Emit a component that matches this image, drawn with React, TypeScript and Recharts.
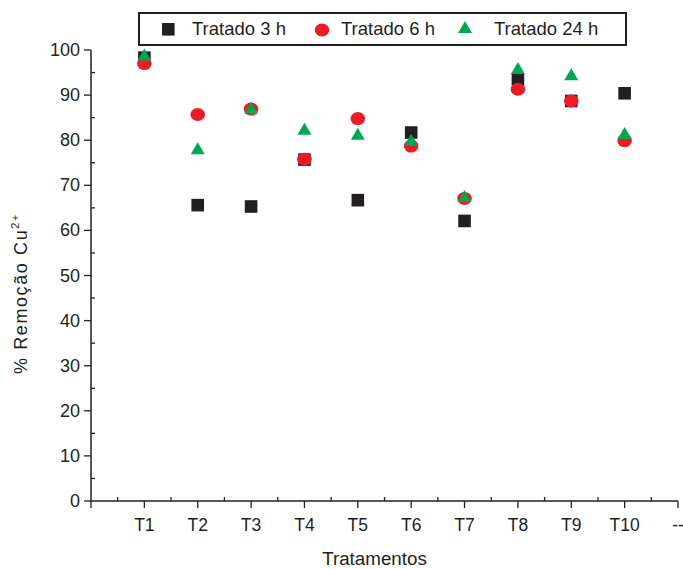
import { ScatterChart, Scatter, XAxis, YAxis, Legend } from "recharts"

const treatments = ["T1", "T2", "T3", "T4", "T5", "T6", "T7", "T8", "T9", "T10"]
const tratado3h = [98.3, 65.6, 65.3, 75.7, 66.7, 81.7, 62.1, 93.5, 88.7, 90.4]
const tratado6h = [97.0, 85.7, 86.9, 75.8, 84.8, 78.7, 67.1, 91.3, 88.7, 79.9]
const tratado24h = [98.8, 78.0, 87.0, 82.3, 81.2, 79.9, 67.4, 95.8, 94.4, 81.4]
const xTickLabels = ["", ...treatments, "--"]
const yTickLabels = [0, 10, 20, 30, 40, 50, 60, 70, 80, 90, 100]

const INK = "#231f20"
const RED = "#ed1c24"
const GREEN = "#00a651"

const toPoints = (values: number[]) => values.map((v, i) => ({ x: i + 1, y: v, name: treatments[i] }))

const xTicks = xTickLabels.flatMap((_, i) => (i < xTickLabels.length - 1 ? [i, i + 0.5] : [i]))
const yTicks = yTickLabels.flatMap((v, i) => (i < yTickLabels.length - 1 ? [v, v + 5] : [v]))

const Square = ({ cx, cy }: any) => <rect x={cx - 6.3} y={cy - 6.3} width={12.6} height={12.6} fill={INK} />
const Dot = ({ cx, cy }: any) => <ellipse cx={cx} cy={cy} rx={7.3} ry={6.5} fill={RED} />
const Tri = ({ cx, cy }: any) => (
  <polygon points={`${cx},${cy - 7} ${cx - 7},${cy + 5} ${cx + 7},${cy + 5}`} fill={GREEN} />
)

const XTick = ({ x, y, payload }: any) => {
  const v = payload.value
  if (!Number.isInteger(v)) return <line x1={x} x2={x} y1={y} y2={y - 4} stroke={INK} strokeWidth={1.3} />
  return (
    <g>
      <line x1={x} x2={x} y1={y} y2={y + 7} stroke={INK} strokeWidth={1.3} />
      <text x={x} y={y + 30} textAnchor="middle" fontSize={17.5} fill={INK}>
        {xTickLabels[v]}
      </text>
    </g>
  )
}

const YTick = ({ x, y, payload }: any) => {
  const v = payload.value
  if (v % 10 !== 0) return <line x1={x} x2={x + 4} y1={y} y2={y} stroke={INK} strokeWidth={1.3} />
  return (
    <g>
      <line x1={x - 7} x2={x} y1={y} y2={y} stroke={INK} strokeWidth={1.3} />
      <text x={x - 11} y={y + 6} textAnchor="end" fontSize={18} fill={INK}>
        {v}
      </text>
    </g>
  )
}

const LegendBox = () => (
  <svg width={489} height={34}>
    <rect x={1} y={1} width={487} height={32} fill="#fff" stroke={INK} strokeWidth={2} />
    <rect x={24} y={11} width={12.6} height={12.6} fill={INK} />
    <text x={54} y={23} fontSize={18.5} fill={INK}>Tratado 3 h</text>
    <ellipse cx={184} cy={18} rx={7.3} ry={6.5} fill={RED} />
    <text x={203} y={23} fontSize={18.5} fill={INK}>Tratado 6 h</text>
    <polygon points="327,9 320,21 334,21" fill={GREEN} />
    <text x={356} y={23} fontSize={18.5} fill={INK}>Tratado 24 h</text>
  </svg>
)

export default function App() {
  return (
    <div style={{ position: "absolute", left: 0, top: 0, width: 683, height: 569, background: "#fff", fontFamily: "'Liberation Sans', Arial, sans-serif" }}>
      <ScatterChart width={683} height={569} margin={{ top: 50, right: 5, bottom: 67, left: 90 }}>
        <XAxis
          type="number"
          dataKey="x"
          domain={[0, 11]}
          ticks={xTicks}
          interval={0}
          height={1}
          tickSize={0}
          tickMargin={0}
          tickLine={false}
          tick={<XTick />}
          axisLine={{ stroke: INK, strokeWidth: 1.5 }}
          label={{
            content: ({ viewBox }: any) => (
              <text x={viewBox.x + viewBox.width / 2 - 10} y={viewBox.y + 64} textAnchor="middle" fontSize={18.8} fill={INK}>
                Tratamentos
              </text>
            ),
          }}
        />
        <YAxis
          type="number"
          dataKey="y"
          domain={[0, 100]}
          ticks={yTicks}
          interval={0}
          width={1}
          tickSize={0}
          tickMargin={0}
          tickLine={false}
          tick={<YTick />}
          axisLine={{ stroke: INK, strokeWidth: 1.5 }}
          label={{
            content: ({ viewBox }: any) => {
              const cx = viewBox.x - 63
              const cy = viewBox.y + viewBox.height / 2 + 18
              return (
                <text x={cx} y={cy} transform={`rotate(-90 ${cx} ${cy})`} textAnchor="middle" fontSize={18} fill={INK} letterSpacing={1.6}>
                  % Remoção Cu
                  <tspan dy={-8} fontSize={11}>2+</tspan>
                </text>
              )
            },
          }}
        />
        <Legend
          layout="horizontal"
          verticalAlign="middle"
          align="center"
          wrapperStyle={{ top: 12, left: 138, width: 489, height: 34 }}
          content={() => <LegendBox />}
        />
        <Scatter name="Tratado 3 h" data={toPoints(tratado3h)} fill={INK} shape={<Square />} isAnimationActive={false} />
        <Scatter name="Tratado 6 h" data={toPoints(tratado6h)} fill={RED} shape={<Dot />} isAnimationActive={false} />
        <Scatter name="Tratado 24 h" data={toPoints(tratado24h)} fill={GREEN} shape={<Tri />} isAnimationActive={false} />
      </ScatterChart>
    </div>
  )
}
